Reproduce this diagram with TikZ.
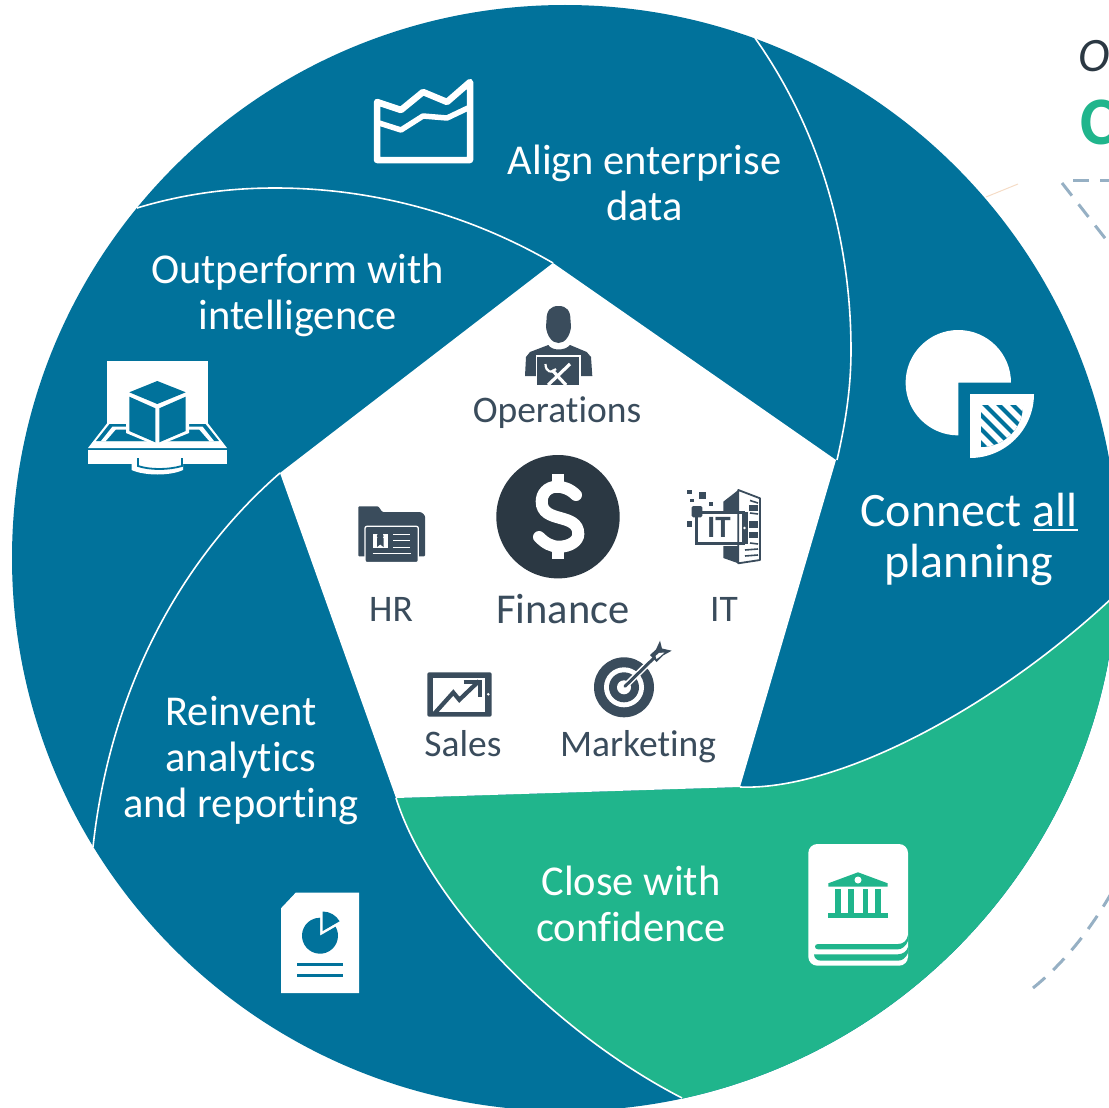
\documentclass[tikz,border=0pt]{standalone}
\usepackage{fontspec}
\setmainfont[Ligatures=NoCommon]{Carlito}
\definecolor{wheelblue}{HTML}{01729B}
\definecolor{wheelgreen}{HTML}{20B58C}
\definecolor{icondark}{HTML}{3A4C5C}
\definecolor{coindark}{HTML}{2B3843}
\definecolor{dashblue}{HTML}{96B0C4}
\definecolor{peach}{HTML}{F5DCC6}
\newcommand{\ulall}[1]{\setbox0\hbox{#1}\rlap{\rule[-5pt]{\wd0}{2.4pt}}\box0}
\tikzset{
  segtext/.style={text=white,align=center,font=\fontsize{42.5}{46}\selectfont},
  bigtext/.style={text=white,align=center,font=\fontsize{48}{51}\selectfont},
  functext/.style={text=icondark,anchor=base,font=\fontsize{37.5}{40}\selectfont},
  sepline/.style={draw=white,line width=1.6pt},
  dashline/.style={draw=dashblue,line width=3pt,dash pattern=on 16pt off 11pt},
}
\begin{document}
\begin{tikzpicture}[x=1pt,y=1pt,yscale=-1]
\useasboundingbox (0,0) rectangle (1109,1108);
\begin{scope}
\clip (0,0) rectangle (1109,1108);
% outside remnants
\draw[peach,line width=1pt] (986,197) -- (1018,184);
\draw[dashline] (1073,180) -- (1120,180);
\draw[dashline] (1062,183) -- (1108,242);
\draw[dashline] (1033,988) .. controls (1065,962) and (1090,930) .. (1112,892);
\node[anchor=base west,text=coindark,font=\fontsize{48}{48}\selectfont\itshape] (ohead) at (1075,72) {O};
\node[anchor=base west,text=wheelgreen,font=\fontsize{68}{68}\selectfont\bfseries] (chead) at (1077,144) {C};
% wheel
\fill[wheelblue] (565,558) circle (553);
\begin{scope}
\clip (565,558) circle (553);
\fill[wheelgreen] (396,798) -- (740,787) .. controls (835,791) and (990,712) .. (1112,598)
  -- (1130,1130) -- (683,1130) -- (682,1098) .. controls (550,1030) and (428,900) .. (396,798) -- cycle;
\draw[sepline] (740,787) .. controls (835,791) and (990,712) .. (1112,598);
\draw[sepline] (682,1098) .. controls (550,1030) and (428,900) .. (396,798);
\end{scope}
\fill[white] (553,263) -- (836,460) -- (740,787) -- (396,798) -- (280,473) -- cycle;
\draw[sepline] (755,38) .. controls (820,130) and (851,240) .. (851,350) .. controls (851,390) and (845,425) .. (837,460);
\draw[sepline] (137,208) .. controls (180,195) and (225,188) .. (275,188) .. controls (375,188) and (470,215) .. (553,263);
\draw[sepline] (280,473) .. controls (180,560) and (110,690) .. (93,847);
% segment labels
\node[segtext] (align) at (644.5,183) {Align enterprise\\data};
\node[segtext] (outperform) at (297.5,295) {Outperform with\\intelligence};
\node[segtext] (reinvent) at (241,761) {Reinvent\\analytics\\and reporting};
\node[segtext] (close) at (631,904) {Close with\\confidence};
\node[bigtext] (connect) at (969,539) {Connect \ulall{all}\\planning};
% function labels
\node[functext] (ops) at (557,422) {Operations};
\node[functext] (hr) at (391,621) {HR};
\node[functext,font=\fontsize{42.5}{44}\selectfont] (fin) at (563,623) {Finance};
\node[functext] (it) at (724,621) {IT};
\node[functext] (sales) at (463,756) {Sales};
\node[functext] (mkt) at (638,756) {Marketing};
% chart icon
\draw[white,line width=6.5pt,line join=round] (377,102) -- (401,110) -- (423,92) -- (447,102) -- (470,82) -- (470,160) -- (377,160) -- cycle;
\draw[white,line width=5.5pt,line join=round] (379,123) -- (401,130) -- (423,116) -- (447,118) -- (468,108);
% briefcase icon
\fill[white] (107.3,361) rectangle (207.7,423.5);
\fill[white] (107.3,423) -- (207.7,423) -- (227,448) -- (88,448) -- cycle;
\fill[wheelblue] (109.5,424) -- (205.5,424) -- (219,441) -- (96,441) -- cycle;
\fill[white] (112.5,426.5) -- (202.5,426.5) -- (214,441) -- (101,441) -- cycle;
\fill[wheelblue] (116,429.5) -- (199,429.5) -- (209,441) -- (106,441) -- cycle;
\fill[white] (88.3,449.5) rectangle (226.7,464.3);
\fill[white] (131.6,462) -- (131.6,470) .. controls (145,476) and (170,476) .. (183,470) -- (183,462) -- cycle;
\draw[wheelblue,line width=1.8pt] (138,458) -- (138,466) .. controls (150,470) and (168,470) .. (182,466) -- (182,458);
\fill[white] (157.3,377) -- (189,390) -- (189,433) -- (157.3,446) -- (126,433) -- (126,390) -- cycle;
\fill[wheelblue] (157.3,381) -- (185.7,392.3) -- (157.3,404) -- (129.3,392.3) -- cycle;
\fill[wheelblue] (129.3,396.7) -- (155.3,408.3) -- (155.3,442.3) -- (129.3,431) -- cycle;
\fill[wheelblue] (159.3,408.3) -- (185.7,396.7) -- (185.7,431) -- (159.3,442.3) -- cycle;
% pie icon
\fill[white] (958.3,382.7) -- ++(90:52.7) arc[start angle=90,end angle=360,radius=52.7] -- cycle;
\fill[white] (970,394) -- ++(0:64) arc[start angle=0,end angle=90,radius=64] -- cycle;
\begin{scope}
\clip (981,405) -- ++(0:42) arc[start angle=0,end angle=90,radius=42] -- cycle;
\fill[wheelblue] (981,405) rectangle (1024,448);
\foreach \d in {-42,-28,-14,0,14,28} {
  \draw[white,line width=5.5pt] (981+\d+6,400) -- (981+\d+56,450);
}
\end{scope}
% bank book icon
\fill[white,rounded corners=9pt] (808.3,844) rectangle (908,965.7);
\fill[wheelgreen] (858,872.3) -- (887.7,883.3) -- (887.7,886.7) -- (828.3,886.7) -- (828.3,883.3) -- cycle;
\fill[white] (858,880) circle (3.5);
\foreach \cx in {835,848.3,862.7,875} {
  \fill[wheelgreen] (\cx,889.3) rectangle (\cx+5.7,912.7);
}
\fill[wheelgreen] (828.3,912.7) rectangle (887.7,917.7);
\fill[wheelgreen] (818,944) -- (898,944) .. controls (903,944) and (907,941) .. (908,935) -- (908,941) .. controls (906,946) and (902,949.3) .. (898,949.3) -- (818,949.3) .. controls (814,949.3) and (814,944) .. (818,944) -- cycle;
\fill[wheelgreen] (814,954.3) -- (898,954.3) .. controls (903,954.3) and (907,951) .. (908,947) -- (908,953) .. controls (906,958) and (902,960.7) .. (898,960.7) -- (821,960.7) .. controls (817,960.7) and (814,958) .. (814,954.3) -- cycle;
% document icon
\fill[white] (295.7,892.7) -- (359,892.7) -- (359,993) -- (281,993) -- (281,908.3) -- cycle;
\fill[wheelblue] (320,935.7) -- ++(-30:18) arc[start angle=-30,end angle=270,radius=18] -- cycle;
\fill[wheelblue] (322.7,931) -- ++(-90:19.5) arc[start angle=-90,end angle=-30,radius=19.5] -- cycle;
\fill[wheelblue] (296.7,963.2) rectangle (343.3,966.2);
\fill[wheelblue] (296.7,973.8) rectangle (343.3,976.8);
% operations person
\fill[icondark] (558.5,306) .. controls (567,306) and (570.5,311) .. (570.5,320) -- (571,327) .. controls (570,336) and (565,343) .. (558.5,343) .. controls (552,343) and (547,336) .. (546,327) -- (546.5,320) .. controls (546.5,311) and (550,306) .. (558.5,306) -- cycle;
\fill[icondark] (525,376) -- (526,357) -- (530,352) -- (548.3,345) .. controls (552,351) and (565,351) .. (570,345) -- (586.7,352) -- (591,357) -- (592.3,376) -- cycle;
\fill[icondark,draw=white,line width=1.4pt] (536.7,385) -- (536.7,356) -- (580,356) -- (580,385);
\draw[white,line width=3.2pt] (548,385) -- (570,364);
\draw[white,line width=3.2pt] (552,370) -- (566,385);
\draw[white,line width=2.2pt] (545.5,364) .. controls (545.5,372) and (552,374) .. (556,369);
% coin
\fill[coindark] (558,516.7) circle (61.7);
\draw[white,line width=12pt] (558,474) -- (558,487);
\draw[white,line width=12pt] (558,547) -- (558,559.3);
\draw[white,line width=12pt,line cap=round] (576,495) .. controls (570,489) and (563,486.7) .. (557,486.7) .. controls (547,486.7) and (541.7,494) .. (541.7,501.5) .. controls (541.7,524) and (578.3,512) .. (578.3,534) .. controls (578.3,541) and (570,546.7) .. (559,546.7) .. controls (551,546.7) and (545,543) .. (539,537);
% HR folder
\fill[icondark,rounded corners=1pt] (358.3,506.3) -- (378.3,506.3) -- (382.3,512) -- (418.3,512) .. controls (422,512) and (425,515) .. (425,518) -- (425,556.3) -- (358.3,556.3) -- cycle;
\fill[icondark,draw=white,line width=1.3pt,rounded corners=2pt] (365,526.3) rectangle (418.3,562.6);
\fill[white] (372.7,533.7) rectangle (387.7,548);
\fill[icondark] (380.2,536) circle (3.4);
\fill[icondark] (377,538) -- (383.5,538) -- (383.5,547) -- (380.2,544.5) -- (377,547) -- cycle;
\draw[white,line width=1.5pt] (393.3,534.7) -- (410,534.7) (393.3,540.7) -- (410,540.7) (393.3,547.3) -- (410,547.3) (372.7,553.7) -- (410.7,553.7);
% IT icon
\fill[icondark] (687.3,490) rectangle (691.7,494.3);
\fill[icondark] (699.3,492.3) rectangle (706,499);
\fill[icondark] (690.3,499) rectangle (693.7,502.3);
\fill[icondark] (709.3,502.3) rectangle (712.7,505.7);
\fill[icondark] (687.3,521.3) rectangle (691.7,526.7);
\fill[icondark] (723.3,501.7) -- (738.3,490) -- (738.3,512) -- (723.3,512) -- cycle;
\fill[icondark] (723.3,546) -- (738.3,546) -- (738.3,563.3) -- (723.3,558) -- cycle;
\draw[icondark,fill=white,line width=1.8pt,line join=round] (738.3,490) -- (760,498.3) -- (760,560) -- (738.3,563.3) -- cycle;
\draw[icondark,line width=3pt] (696,512.5) rectangle (743,543.5);
\fill[icondark] (743,511.7) rectangle (747.5,544);
\fill[white] (744.5,528) circle (1.4);
\fill[icondark,rounded corners=1.5pt] (691.7,506) rectangle (702.3,517.3);
\draw[icondark,line width=1.6pt] (750,500.5) -- (758,503) (750,513) -- (758,514) (750,543) -- (758,544) (745,550) -- (758,549) (745,556) -- (758,555);
\fill[icondark] (749,505) rectangle (758,511);
\fill[icondark] (749,521) rectangle (758,527.5);
\fill[icondark] (749,531.5) rectangle (758,538);
\node[text=icondark,font=\fontsize{31}{31}\selectfont\bfseries] (itmark) at (719,527.5) {IT};
% Sales icon
\fill[icondark,rounded corners=2pt] (427.3,672.3) rectangle (491.7,716.7);
\fill[white] (433.3,677.7) rectangle (485,711.7);
\fill[white] (488.3,694.3) circle (1.4);
\draw[icondark,line width=4.2pt] (434,714) -- (453.3,692.5) -- (459.3,699.8) -- (479,681);
\draw[icondark,line width=4pt] (463.5,681.5) -- (479.5,681.5) -- (479.5,696.5);
% Marketing icon
\fill[icondark] (624,687.3) circle (30);
\fill[white] (624,687.3) circle (20);
\fill[icondark] (624,687.3) circle (15);
\fill[white] (624,687.3) circle (7);
\draw[white,line width=6pt] (626,685.3) -- (656,656);
\draw[icondark,line width=3pt,line cap=round] (625,686.3) -- (656,656);
\fill[icondark] (660,640.7) -- (662,648.5) -- (671.7,650.7) -- (663,655.5) -- (656.5,662) -- (650,655) -- (656,649.5) -- cycle;
\fill[white] (655.5,656) -- (659,653) -- (664.5,652.5) -- (660,656.5) -- (656.5,659) -- cycle;
\end{scope}
\end{tikzpicture}
\end{document}
